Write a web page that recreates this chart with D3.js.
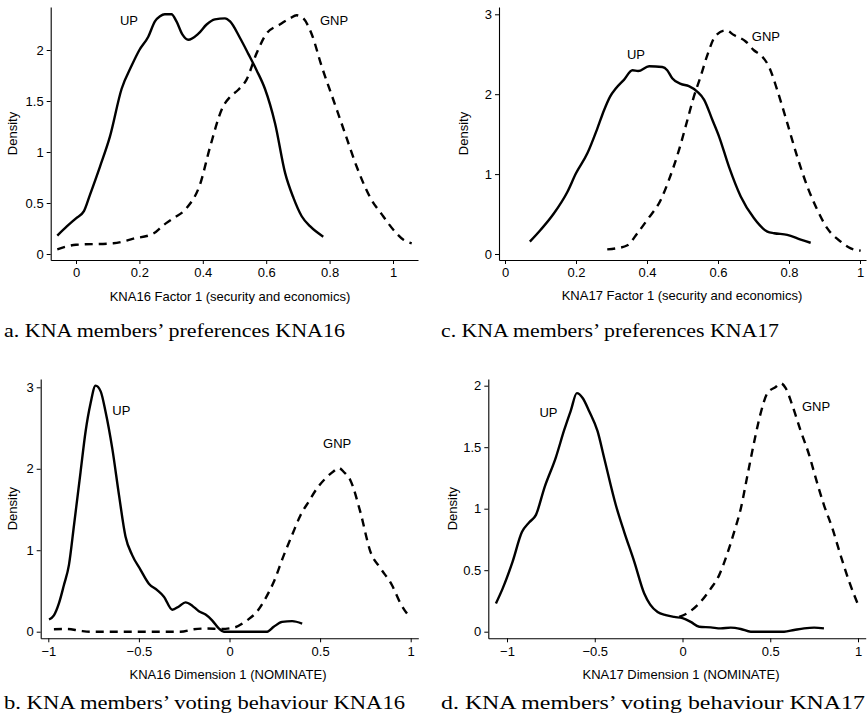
<!DOCTYPE html>
<html>
<head>
<meta charset="utf-8">
<script src="https://cdn.jsdelivr.net/npm/d3@7"></script>
<style>
  html, body { margin: 0; padding: 0; background: #fff; }
  svg { display: block; }
</style>
</head>
<body>
<svg id="chart" width="867" height="723"></svg>
<script>
// ---------- DATA ----------
// Panel a: KNA16 Factor 1
const a_upX  = [-0.059,-0.029,0,0.025,0.044,0.076,0.107,0.144,0.176,0.2,0.228,0.249,0.265,0.28,0.301,0.317,0.336,0.354,0.386,0.412,0.438,0.47,0.486,0.517,0.544,0.57,0.596,0.628,0.66,0.686,0.712,0.739,0.78];
const a_upY  = [0.18,0.27,0.35,0.42,0.58,0.86,1.15,1.62,1.85,2.0,2.13,2.28,2.33,2.35,2.35,2.28,2.15,2.10,2.16,2.25,2.30,2.31,2.28,2.12,1.96,1.80,1.62,1.28,0.79,0.55,0.37,0.27,0.17];
const a_gnpX = [-0.059,0,0.118,0.181,0.244,0.275,0.307,0.349,0.391,0.423,0.463,0.486,0.512,0.538,0.57,0.601,0.643,0.675,0.696,0.717,0.743,0.775,0.812,0.849,0.885,0.927,0.969,1.006,1.033,1.059];
const a_gnpY = [0.046,0.09,0.105,0.15,0.2,0.28,0.35,0.45,0.68,1.05,1.44,1.54,1.61,1.71,1.97,2.16,2.25,2.31,2.34,2.31,2.16,1.84,1.51,1.18,0.86,0.56,0.37,0.22,0.14,0.105];

// Panel c: KNA17 Factor 1
const c_upX  = [0.07,0.1,0.138,0.176,0.2,0.232,0.26,0.279,0.296,0.312,0.335,0.359,0.375,0.406,0.443,0.457,0.471,0.495,0.518,0.542,0.561,0.584,0.603,0.631,0.664,0.701,0.739,0.758,0.795,0.833,0.861];
const c_upY  = [0.154,0.30,0.51,0.78,1.01,1.26,1.57,1.80,1.97,2.07,2.18,2.30,2.29,2.35,2.34,2.30,2.20,2.13,2.10,2.03,1.93,1.68,1.47,1.09,0.72,0.45,0.28,0.26,0.24,0.18,0.14];
const c_gnpX = [0.288,0.312,0.345,0.373,0.401,0.439,0.462,0.49,0.514,0.532,0.551,0.57,0.593,0.622,0.645,0.678,0.701,0.725,0.744,0.767,0.795,0.823,0.852,0.88,0.908,0.946,0.974,1.002];
const c_gnpY = [0.058,0.07,0.11,0.26,0.43,0.68,0.93,1.30,1.68,1.97,2.22,2.49,2.73,2.80,2.74,2.66,2.55,2.47,2.34,2.05,1.64,1.22,0.84,0.55,0.32,0.154,0.071,0.042];

// Panel b: KNA16 Dimension 1 (NOMINATE)
const b_upX  = [-0.996,-0.969,-0.941,-0.914,-0.886,-0.858,-0.822,-0.794,-0.767,-0.739,-0.711,-0.684,-0.647,-0.61,-0.574,-0.537,-0.491,-0.445,-0.399,-0.362,-0.316,-0.279,-0.243,-0.206,-0.169,-0.132,-0.096,-0.059,-0.031,0.208,0.244,0.29,0.346,0.401];
const b_upY  = [0.15,0.20,0.35,0.57,0.82,1.31,1.96,2.46,2.80,3.02,2.95,2.70,2.25,1.68,1.17,0.94,0.76,0.59,0.51,0.43,0.27,0.31,0.36,0.32,0.25,0.21,0.14,0.04,0.0,0.0,0.06,0.12,0.13,0.10];
const b_gnpX = [-0.969,-0.895,-0.822,-0.767,-0.27,-0.197,-0.123,-0.05,0.024,0.097,0.153,0.199,0.244,0.3,0.346,0.392,0.438,0.483,0.529,0.575,0.603,0.631,0.667,0.722,0.778,0.833,0.897,0.943,0.994];
const b_gnpY = [0.03,0.033,0.01,0.0,0.0,0.03,0.04,0.033,0.05,0.14,0.25,0.41,0.61,0.94,1.19,1.43,1.60,1.76,1.88,1.97,2.01,1.96,1.86,1.47,0.98,0.78,0.57,0.35,0.18];

// Panel d: KNA17 Dimension 1 (NOMINATE)
const d_upX  = [-1.063,-1.025,-0.968,-0.915,-0.873,-0.835,-0.787,-0.721,-0.674,-0.636,-0.602,-0.569,-0.531,-0.484,-0.446,-0.38,-0.332,-0.275,-0.218,-0.184,-0.142,-0.095,-0.047,0,0.047,0.095,0.161,0.218,0.275,0.332,0.389,0.579,0.636,0.693,0.75,0.806];
const d_upY  = [0.23,0.35,0.57,0.81,0.89,0.95,1.17,1.42,1.64,1.80,1.94,1.90,1.79,1.63,1.41,1.03,0.81,0.57,0.31,0.22,0.16,0.135,0.12,0.11,0.08,0.04,0.035,0.027,0.033,0.022,0.0,0.0,0.014,0.027,0.033,0.027];
const d_gnpX = [-0.019,0.038,0.095,0.161,0.209,0.247,0.294,0.332,0.37,0.408,0.446,0.484,0.531,0.56,0.588,0.626,0.674,0.721,0.759,0.806,0.854,0.901,0.949,1.006];
const d_gnpY = [0.12,0.16,0.23,0.35,0.46,0.60,0.81,1.00,1.27,1.54,1.78,1.94,1.99,2.02,1.98,1.84,1.63,1.44,1.25,1.03,0.84,0.62,0.41,0.20];

// Tick values
const ticksFactorX = [0, 0.2, 0.4, 0.6, 0.8, 1];
const ticksNomX    = [-1, -0.5, 0, 0.5, 1];
const ticksY_a = [0, 0.5, 1, 1.5, 2];
const ticksY_c = [0, 1, 2, 3];
const ticksY_b = [0, 1, 2, 3];
const ticksY_d = [0, 0.5, 1, 1.5, 2];

// Texts
const xTitles = ["KNA16 Factor 1 (security and economics)", "KNA17 Factor 1 (security and economics)",
                 "KNA16 Dimension 1 (NOMINATE)", "KNA17 Dimension 1 (NOMINATE)"];
const captions = ["a. KNA members\u2019 preferences KNA16", "c. KNA members\u2019 preferences KNA17",
                  "b. KNA members\u2019 voting behaviour KNA16", "d. KNA members\u2019 voting behaviour KNA17"];
const seriesNames = ["UP", "GNP"];
// label anchor positions in data units [x, y] for UP and GNP
const labelPos_a = [[0.167, 2.29], [0.814, 2.29]];
const labelPos_c = [[0.369, 2.50], [0.735, 2.72]];
const labelPos_b = [[-0.597, 2.72], [0.594, 2.31]];
const labelPos_d = [[-0.764, 1.78], [0.761, 1.83]];

// ---------- LAYOUT ----------
const panels = [
  { up:[a_upX,a_upY], gnp:[a_gnpX,a_gnpY], xt:ticksFactorX, yt:ticksY_a, lab:labelPos_a, title:xTitles[0],
    xA:[0,1], xAp:[76,393], xExt:[50.7,418], yA:[0,2], yAp:[254,50], yExt:[260,7],
    titleX:230, titleY:296, yTitleX:12, cap:captions[0], capX:4, capW:341, capY:337 },
  { up:[c_upX,c_upY], gnp:[c_gnpX,c_gnpY], xt:ticksFactorX, yt:ticksY_c, lab:labelPos_c, title:xTitles[1],
    xA:[0,1], xAp:[505,860], xExt:[499,866], yA:[0,3], yAp:[254,14.3], yExt:[260,7],
    titleX:682, titleY:295, yTitleX:463, cap:captions[1], capX:441, capW:338, capY:337 },
  { up:[b_upX,b_upY], gnp:[b_gnpX,b_gnpY], xt:ticksNomX, yt:ticksY_b, lab:labelPos_b, title:xTitles[2],
    xA:[-1,1], xAp:[48.3,410.7], xExt:[40.7,418.3], yA:[0,3], yAp:[631.7,387.3], yExt:[638.3,379],
    titleX:228, titleY:674, yTitleX:12, cap:captions[2], capX:4, capW:401, capY:709 },
  { up:[d_upX,d_upY], gnp:[d_gnpX,d_gnpY], xt:ticksNomX, yt:ticksY_d, lab:labelPos_d, title:xTitles[3],
    xA:[-1,1], xAp:[507,858], xExt:[488.3,865.7], yA:[0,2], yAp:[631.7,385.7], yExt:[638.3,379],
    titleX:681, titleY:674, yTitleX:452, cap:captions[3], capX:441, capW:424, capY:709 }
];

const svg = d3.select("#chart");
const sans = "'Liberation Sans', Arial, Helvetica, sans-serif";
const serif = "'Liberation Serif', 'Times New Roman', serif";
const fmt = d => d3.format("")(d).replace("-", "\u2212");

panels.forEach(p => {
  const x0 = d3.scaleLinear().domain(p.xA).range(p.xAp);
  const x = d3.scaleLinear().domain(p.xExt.map(x0.invert)).range(p.xExt);
  const y0 = d3.scaleLinear().domain(p.yA).range(p.yAp);
  const y = d3.scaleLinear().domain(p.yExt.map(y0.invert)).range(p.yExt);

  const g = svg.append("g");

  // axes
  const xAxis = d3.axisBottom(x).tickValues(p.xt).tickSize(4).tickSizeOuter(0).tickPadding(4).tickFormat(fmt);
  const yAxis = d3.axisLeft(y).tickValues(p.yt).tickSize(4).tickSizeOuter(0).tickPadding(3).tickFormat(fmt);
  const gx = g.append("g").attr("transform", `translate(0,${p.yExt[0]})`).call(xAxis);
  const gy = g.append("g").attr("transform", `translate(${p.xExt[0]},0)`).call(yAxis);
  [gx, gy].forEach(ax => {
    ax.selectAll("path.domain").attr("stroke", "#000").attr("stroke-width", 1.1);
    ax.selectAll(".tick line").attr("stroke", "#000").attr("stroke-width", 1);
    ax.selectAll(".tick text").attr("fill", "#000").style("font-family", sans).style("font-size", "13px");
  });

  // titles
  g.append("text").attr("x", p.titleX).attr("y", p.titleY)
    .attr("text-anchor", "middle").attr("dominant-baseline", "central")
    .style("font-family", sans).style("font-size", "13px").text(p.title);
  const ymid = (p.yExt[0] + p.yExt[1]) / 2;
  g.append("text").attr("transform", `translate(${p.yTitleX},${ymid}) rotate(-90)`)
    .attr("text-anchor", "middle").attr("dominant-baseline", "central")
    .style("font-family", sans).style("font-size", "13px").text("Density");

  // lines
  const line = d3.line().x(d => x(d[0])).y(d => y(d[1])).curve(d3.curveMonotoneX);
  const upPts = d3.zip(p.up[0], p.up[1]);
  const gnpPts = d3.zip(p.gnp[0], p.gnp[1]);
  g.append("path").datum(gnpPts).attr("d", line).attr("fill", "none").attr("stroke", "#000")
    .attr("stroke-width", 2.4).attr("stroke-dasharray", "8,6").attr("stroke-linejoin", "round");
  g.append("path").datum(upPts).attr("d", line).attr("fill", "none").attr("stroke", "#000")
    .attr("stroke-width", 2.4).attr("stroke-linejoin", "round");

  // series labels
  seriesNames.forEach((name, i) => {
    g.append("text").attr("x", x(p.lab[i][0])).attr("y", y(p.lab[i][1]))
      .attr("text-anchor", "middle").attr("dominant-baseline", "central")
      .style("font-family", sans).style("font-size", "13px").text(name);
  });

  // caption
  g.append("text").attr("x", p.capX).attr("y", p.capY)
    .style("font-family", serif).style("font-size", "18px")
    .attr("textLength", p.capW).attr("lengthAdjust", "spacingAndGlyphs")
    .text(p.cap);
});
</script>
</body>
</html>
